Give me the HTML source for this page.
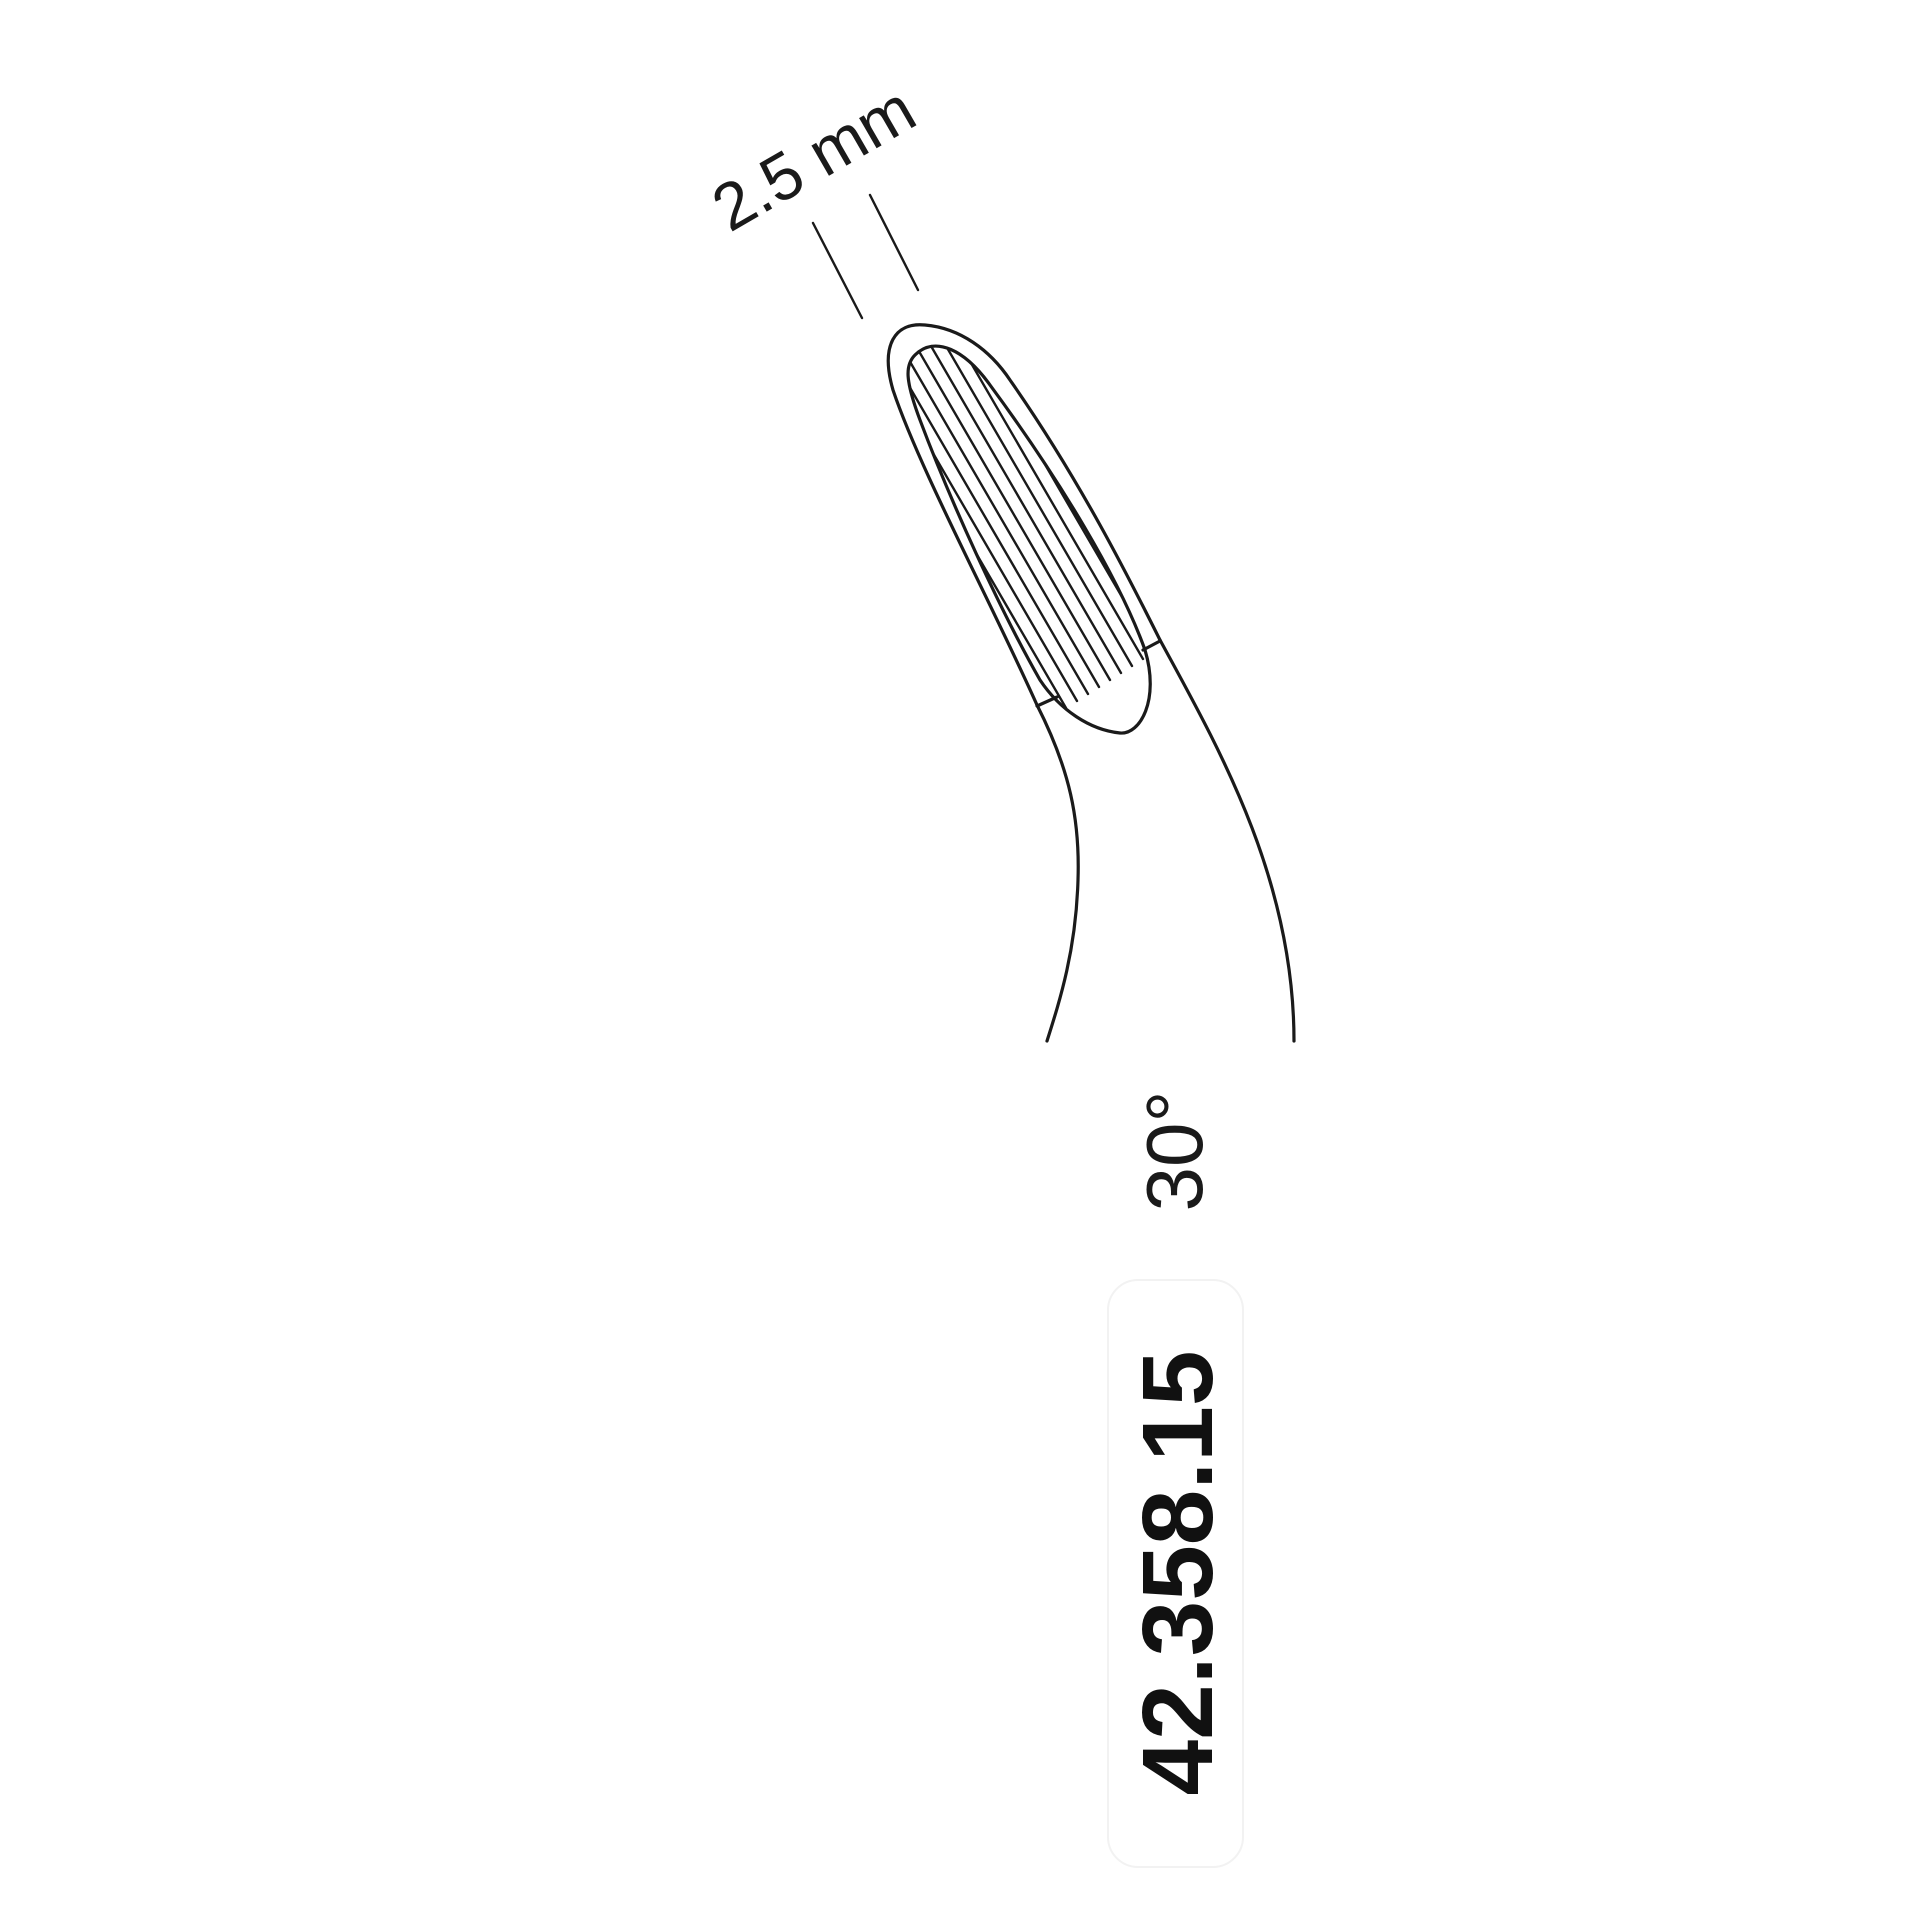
<!DOCTYPE html>
<html><head><meta charset="utf-8"><style>
html,body{margin:0;padding:0;background:#fff;}
svg{display:block;}
</style></head><body>
<svg width="1920" height="1920" viewBox="0 0 1920 1920" xmlns="http://www.w3.org/2000/svg">
<defs>
<clipPath id="ov"><path d="M915,355 C935,335 965,350 990,385 C1060,480 1120,580 1145,650 C1160,700 1140,735 1120,733 C1090,730 1060,710 1040,680 C1000,610 950,500 920,420 C905,380 905,365 915,355 Z"/></clipPath>
</defs>
<g fill="none" stroke="#1a1a1a" stroke-width="3.2" stroke-linecap="round">
<line x1="813" y1="223" x2="862" y2="318" stroke-width="2.4"/>
<line x1="870" y1="195" x2="918" y2="290" stroke-width="2.4"/>
<path d="M1037,705 C990,600 920,470 893,390 C880,345 895,322 925,325 C960,328 990,350 1010,380 C1080,480 1130,580 1160,640"/>
<path d="M1160,640 C1220,750 1294,880 1294,1041"/>
<path d="M1037,705 C1070,770 1080,820 1078,880 C1076,950 1060,1000 1047,1041"/>
<path d="M915,355 C935,335 965,350 990,385 C1060,480 1120,580 1145,650 C1160,700 1140,735 1120,733 C1090,730 1060,710 1040,680 C1000,610 950,500 920,420 C905,380 905,365 915,355 Z"/>
<line x1="1037" y1="706" x2="1057" y2="697"/>
<line x1="1160" y1="641" x2="1143" y2="650"/>
<g clip-path="url(#ov)" stroke-width="2.4">
<line x1="840" y1="345" x2="1055" y2="715"/>
<line x1="851" y1="338" x2="1066" y2="708"/>
<line x1="862" y1="331" x2="1077" y2="701"/>
<line x1="873" y1="324" x2="1088" y2="694"/>
<line x1="884" y1="317" x2="1099" y2="687"/>
<line x1="895" y1="310" x2="1110" y2="680"/>
<line x1="906" y1="303" x2="1121" y2="673"/>
<line x1="917" y1="296" x2="1132" y2="666"/>
<line x1="928" y1="289" x2="1143" y2="659"/>
<line x1="939" y1="282" x2="1154" y2="652"/>
<line x1="950" y1="275" x2="1165" y2="645"/>
<line x1="961" y1="268" x2="1176" y2="638"/>
<line x1="972" y1="261" x2="1187" y2="631"/>
<line x1="983" y1="254" x2="1198" y2="624"/>
</g>
</g>
<text x="0" y="0" transform="translate(825,178) rotate(-30)" text-anchor="middle" font-family="Liberation Sans, sans-serif" font-size="66" fill="#1a1a1a">2.5 mm</text>
<rect x="1108" y="1280" width="135" height="587" rx="30" fill="none" stroke="#f2f2f2" stroke-width="2"/>
<text transform="translate(1202,1151) rotate(-90)" text-anchor="middle" font-family="Liberation Sans, sans-serif" font-size="80" fill="#1a1a1a">30°</text>
<text transform="translate(1212,1573) rotate(-90)" text-anchor="middle" font-family="Liberation Sans, sans-serif" font-weight="bold" font-size="100" fill="#111">42.358.15</text>
</svg>
</body></html>
